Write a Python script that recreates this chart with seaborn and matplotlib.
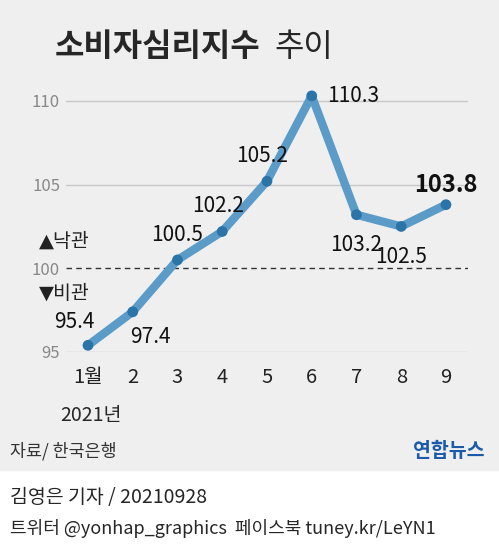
import seaborn as sns
import matplotlib.pyplot as plt
import matplotlib.patches as patches
import pandas as pd

months = [1, 2, 3, 4, 5, 6, 7, 8, 9]
month_labels = ['1월', '2', '3', '4', '5', '6', '7', '8', '9']
values = [95.4, 97.4, 100.5, 102.2, 105.2, 110.3, 103.2, 102.5, 103.8]
yticks = [95, 100, 105, 110]

df = pd.DataFrame({'month': months, 'value': values})

sns.set_style('white')
plt.rcParams['font.family'] = ['Noto Sans CJK KR', 'DejaVu Sans']

fig = plt.figure(figsize=(4.99, 5.5), dpi=100)
fig.patches.append(patches.Rectangle((0, 0.145), 1, 0.855, transform=fig.transFigure,
                                     color='#efefef', zorder=-1))
ax = fig.add_axes([0.1315, 0.36, 0.807, 0.487])
ax.set_facecolor('none')

for y in [95, 105, 110]:
    ax.axhline(y, color='#c8c8c8', lw=1, zorder=1)
ax.axhline(100, color='#333333', lw=1, ls=(0, (4, 3)), zorder=1)

sns.lineplot(data=df, x='month', y='value', ax=ax, color='#5b9bc8', lw=6,
             solid_joinstyle='round', solid_capstyle='round', clip_on=False, zorder=3)
sns.scatterplot(data=df, x='month', y='value', ax=ax, color='#2a74a8', s=60,
                edgecolor='none', clip_on=False, zorder=4)

offsets = [(-0.3, 1.4), (0.4, -1.5), (0, 1.5), (-0.1, 1.5), (-0.1, 1.5),
           (0.35, 0.0), (0, -1.8), (0, -1.8), (0, 1.2)]
for m, v, (dx, dy) in zip(months, values, offsets):
    kw = dict(fontsize=15, ha='center', va='center', color='#111111')
    if m == 6:
        kw['ha'] = 'left'
    if m == 9:
        kw['fontsize'] = 17
        kw['fontweight'] = 'bold'
    ax.text(m + dx, v + dy, f'{v}', **kw)

ax.text(-0.1, 101.6, '▲낙관', fontsize=14, ha='left', va='center', color='#222222',
        family=['DejaVu Sans', 'Noto Sans CJK KR'])
ax.text(-0.1, 98.5, '▼비관', fontsize=14, ha='left', va='center', color='#222222',
        family=['DejaVu Sans', 'Noto Sans CJK KR'])

ax.set_xlim(0.5, 9.5)
ax.set_ylim(95, 111)
ax.set_yticks(yticks)
ax.set_yticklabels([str(t) for t in yticks], fontsize=12, color='#888888')
ax.set_xticks(months)
ax.set_xticklabels(month_labels, fontsize=14.5, color='#222222')
ax.tick_params(axis='y', length=0, pad=4)
ax.tick_params(axis='x', length=5, color='#555555', direction='out', pad=6)
ax.set_xlabel('')
ax.set_ylabel('')
sns.despine(ax=ax, left=True, bottom=True)

fig.text(0.11, 0.915, '소비자심리지수', fontsize=23, fontweight='bold', va='center')
fig.text(0.55, 0.915, '추이', fontsize=23, va='center')
fig.text(0.12, 0.245, '2021년', fontsize=14, va='center')
fig.text(0.02, 0.18, '자료/ 한국은행', fontsize=12.5, style='italic', color='#333333', va='center')
fig.text(0.97, 0.18, '연합뉴스', fontsize=14, fontweight='bold', color='#1a5aa8',
         ha='right', va='center')
fig.text(0.02, 0.095, '김영은 기자 / 20210928', fontsize=14, va='center')
fig.text(0.02, 0.04, '트위터 @yonhap_graphics  페이스북 tuney.kr/LeYN1', fontsize=13,
         va='center')

fig.savefig('out.png', dpi=100)
